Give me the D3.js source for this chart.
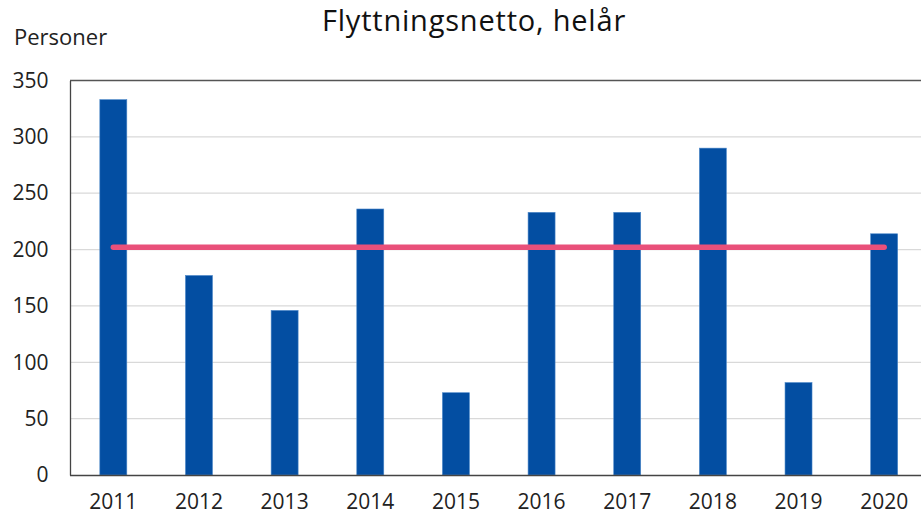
<!DOCTYPE html>
<html><head><meta charset="utf-8">
<script src="https://cdn.jsdelivr.net/npm/d3@7"></script>
<style>body{margin:0;background:#fff}svg{display:block;font-family:"Open Sans",sans-serif}</style>
</head><body><svg id="c" width="921" height="517"></svg>
<script>
const years = ["2011","2012","2013","2014","2015","2016","2017","2018","2019","2020"];
const values = [333,177,146,236,73,233,233,290,82,214];
const average = 202;
const yTicks = [0,50,100,150,200,250,300,350];
const title = "Flyttningsnetto, helår";
const yTitle = "Personer";

const svg = d3.select("#c");
const x = d3.scaleBand().domain(years).range([70.5, 927]).paddingInner(0.685).paddingOuter(0.3425);
const y = d3.scaleLinear().domain([0,350]).range([475,80.5]);

// gridlines
svg.append("g").selectAll("line").data(yTicks.filter(d=>d>0&&d<350)).join("line")
  .attr("x1",70).attr("x2",921).attr("y1",d=>y(d)).attr("y2",d=>y(d))
  .attr("stroke","#d9d9d9").attr("stroke-width",1.3);
// top border
svg.append("line").attr("x1",70).attr("x2",921).attr("y1",y(350)).attr("y2",y(350)).attr("stroke","#555").attr("stroke-width",1.3);

// bars
svg.append("g").selectAll("rect").data(values).join("rect")
  .attr("x",(d,i)=>x(years[i])).attr("width",x.bandwidth())
  .attr("y",d=>y(d)).attr("height",d=>y(0)-y(d))
  .attr("fill","#034ea2").attr("stroke","#4a86c8").attr("stroke-width",0.6);

// average line
svg.append("line")
  .attr("x1",x(years[0])+x.bandwidth()/2).attr("x2",x(years[years.length-1])+x.bandwidth()/2)
  .attr("y1",y(average)).attr("y2",y(average))
  .attr("stroke","#e9507a").attr("stroke-width",5.5).attr("stroke-linecap","round");

// axes
const ya = svg.append("g").attr("transform","translate(70,0)")
  .call(d3.axisLeft(y).tickValues(yTicks).tickSize(0).tickPadding(21.5));
ya.select(".domain").attr("stroke","#444").attr("stroke-width",1.3);
ya.selectAll("text").attr("font-size",21).attr("fill","#222").attr("font-family","'Open Sans',sans-serif");

const xa = svg.append("g").attr("transform","translate(0,475)")
  .call(d3.axisBottom(x).tickSize(0).tickPadding(19.5));
xa.select(".domain").attr("d","M70,0.5H921").attr("stroke","#444").attr("stroke-width",1.3);
xa.selectAll("text").attr("font-size",21).attr("fill","#222").attr("font-family","'Open Sans',sans-serif");

svg.append("text").attr("x",474).attr("y",31).attr("text-anchor","middle")
  .attr("font-size",29).attr("letter-spacing",0.8).attr("fill","#111").text(title);
svg.append("text").attr("x",14).attr("y",45).attr("font-size",22).attr("fill","#222").text(yTitle);
</script></body></html>
